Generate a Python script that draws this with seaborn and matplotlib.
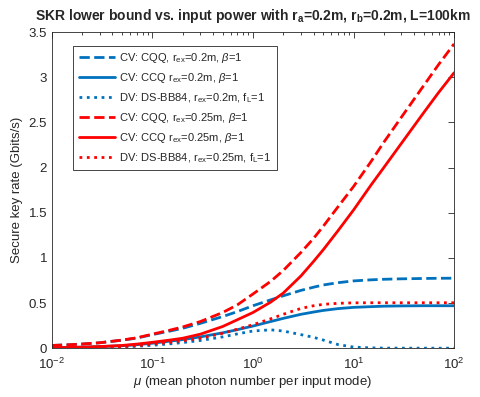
#!/usr/bin/env python3
"""SKR lower bound vs. input power, MATLAB-style line chart."""

import matplotlib
matplotlib.use("Agg")
import matplotlib.pyplot as plt
import pandas as pd
import seaborn as sns
from matplotlib.ticker import LogLocator, NullFormatter

# mean photon number per input mode
mu = [0.01, 0.015, 0.02, 0.03, 0.05, 0.07, 0.1, 0.15, 0.2, 0.3, 0.5, 0.7, 1, 1.5, 2, 3, 4, 5,
      7, 10, 15, 20, 30, 50, 70, 100]

# secure key rate (Gbits/s)
cqq_020 = [0.03, 0.038, 0.046, 0.06, 0.088, 0.112, 0.15, 0.19, 0.22, 0.275, 0.35, 0.405, 0.47,
           0.535, 0.58, 0.64, 0.675, 0.70, 0.725, 0.745, 0.757, 0.763, 0.768, 0.772, 0.774, 0.775]
ccq_020 = [0.005, 0.008, 0.011, 0.017, 0.027, 0.038, 0.055, 0.078, 0.095, 0.125, 0.17, 0.205,
           0.245, 0.295, 0.33, 0.375, 0.40, 0.418, 0.438, 0.452, 0.46, 0.465, 0.468, 0.47, 0.47,
           0.47]
bb84_020 = [0.002, 0.003, 0.005, 0.008, 0.014, 0.021, 0.032, 0.048, 0.062, 0.085, 0.125, 0.158,
            0.19, 0.203, 0.19, 0.15, 0.12, 0.09, 0.04, 0.012, 0.003, 0.001, 0.0, 0.0, 0.0, 0.0]
cqq_025 = [0.03, 0.038, 0.046, 0.06, 0.09, 0.115, 0.155, 0.20, 0.235, 0.295, 0.395, 0.48, 0.60,
           0.74, 0.86, 1.06, 1.215, 1.35, 1.565, 1.79, 2.07, 2.28, 2.56, 2.91, 3.14, 3.37]
ccq_025 = [0.005, 0.008, 0.012, 0.018, 0.03, 0.045, 0.065, 0.09, 0.11, 0.155, 0.24, 0.315, 0.395,
           0.51, 0.61, 0.80, 0.96, 1.09, 1.30, 1.53, 1.81, 2.0, 2.27, 2.61, 2.83, 3.05]
bb84_025 = [0.002, 0.004, 0.006, 0.01, 0.018, 0.027, 0.045, 0.065, 0.082, 0.11, 0.165, 0.21,
            0.26, 0.325, 0.375, 0.44, 0.47, 0.485, 0.497, 0.502, 0.503, 0.503, 0.503, 0.503,
            0.503, 0.503]

labels = [
    r"CV: CQQ, r$_{ex}$=0.2m, $\mathit{\beta}$=1",
    r"CV: CCQ r$_{ex}$=0.2m, $\mathit{\beta}$=1",
    r"DV: DS-BB84, r$_{ex}$=0.2m, f$_L$=1",
    r"CV: CQQ, r$_{ex}$=0.25m, $\mathit{\beta}$=1",
    r"CV: CCQ r$_{ex}$=0.25m, $\mathit{\beta}$=1",
    r"DV: DS-BB84, r$_{ex}$=0.25m, f$_L$=1",
]
series = [cqq_020, ccq_020, bb84_020, cqq_025, ccq_025, bb84_025]

BLUE = "#0072BD"
RED = "#FF0000"
colors = [BLUE, BLUE, BLUE, RED, RED, RED]
styles = ["--", "-", ":", "--", "-", ":"]


def main() -> int:
    sns.set_theme(style="white")
    plt.rcParams["font.family"] = ["Liberation Sans", "DejaVu Sans"]
    plt.rcParams["mathtext.fontset"] = "custom"
    plt.rcParams["mathtext.rm"] = "Liberation Sans"
    plt.rcParams["mathtext.it"] = "Liberation Sans:italic"
    plt.rcParams["mathtext.bf"] = "Liberation Sans:bold"
    plt.rcParams["mathtext.default"] = "regular"

    fig = plt.figure(figsize=(4.8, 3.97), dpi=100)
    ax = fig.add_axes([0.108, 0.123, 0.838, 0.796])

    for vals, label, color, ls in zip(series, labels, colors, styles):
        df = pd.DataFrame({"mu": mu, "skr": vals})
        sns.lineplot(data=df, x="mu", y="skr", ax=ax, color=color, linestyle=ls,
                     linewidth=2, label=label)

    ax.set_xscale("log")
    ax.set_xlim(0.01, 100)
    ax.set_ylim(0, 3.5)
    ax.set_yticks([0, 0.5, 1, 1.5, 2, 2.5, 3, 3.5])
    ax.set_yticklabels(["0", "0.5", "1", "1.5", "2", "2.5", "3", "3.5"])
    ax.xaxis.set_major_locator(LogLocator(base=10, numticks=10))
    ax.xaxis.set_minor_locator(LogLocator(base=10, subs=range(2, 10), numticks=10))
    ax.xaxis.set_minor_formatter(NullFormatter())

    ax.tick_params(axis="both", which="both", direction="in", top=True, right=True,
                   labelsize=9.5, colors="#262626", width=0.6)
    ax.tick_params(axis="both", which="major", length=4)
    ax.tick_params(axis="both", which="minor", length=2)
    ax.tick_params(axis="x", which="major", pad=6)
    for spine in ax.spines.values():
        spine.set_color("#262626")
        spine.set_linewidth(0.6)

    ax.set_xlabel(r"$\mathit{\mu}$ (mean photon number per input mode)", fontsize=9.5,
                  color="#262626", labelpad=2)
    ax.set_ylabel("Secure key rate (Gbits/s)", fontsize=9.5, color="#262626", labelpad=4)
    ax.set_title(r"SKR lower bound vs. input power with r$_\mathbf{a}$=0.2m, "
                 r"r$_\mathbf{b}$=0.2m, L=100km", fontsize=10, fontweight="bold", pad=9)

    leg = ax.legend(loc="upper left", bbox_to_anchor=(0.04, 0.975), fontsize=8,
                    handlelength=3.2, handletextpad=0.4, borderpad=0.5, labelspacing=0.55,
                    fancybox=False, framealpha=1, edgecolor="#262626")
    leg.get_frame().set_linewidth(0.6)

    fig.savefig("out.png", dpi=100)
    plt.close(fig)
    return 0


if __name__ == "__main__":
    raise SystemExit(main())
